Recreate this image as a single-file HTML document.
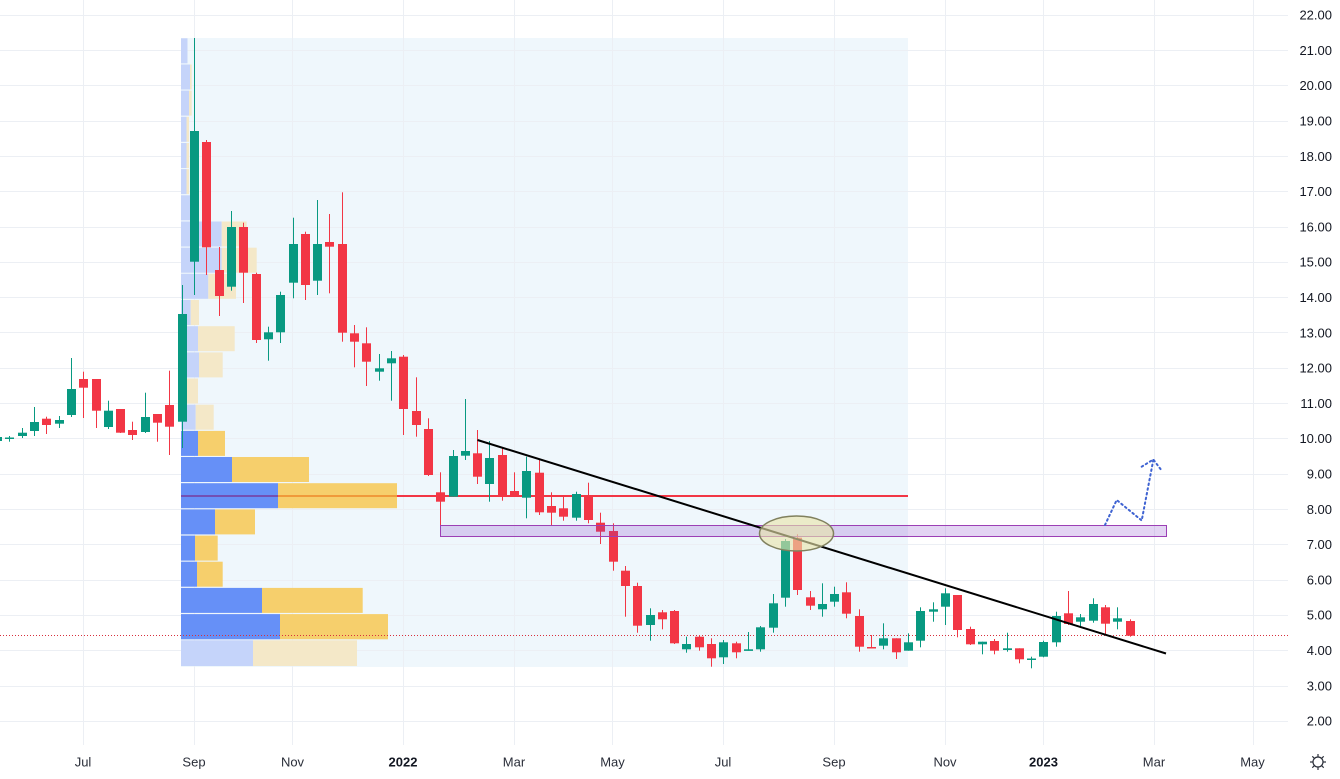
<!DOCTYPE html>
<html>
<head>
<meta charset="utf-8">
<style>
html,body{margin:0;padding:0;background:#ffffff;}
svg{display:block;}
text{font-family:"Liberation Sans",sans-serif;}
</style>
</head>
<body>
<svg width="1340" height="779" viewBox="0 0 1340 779" xmlns="http://www.w3.org/2000/svg">
<rect x="0" y="0" width="1340" height="779" fill="#ffffff"/>
<rect x="181" y="38" width="727" height="629" fill="#eff7fc"/>
<g stroke="#eceff4" stroke-width="1">
<line x1="0" y1="15.5" x2="1288" y2="15.5"/>
<line x1="0" y1="50.5" x2="1288" y2="50.5"/>
<line x1="0" y1="85.5" x2="1288" y2="85.5"/>
<line x1="0" y1="121.5" x2="1288" y2="121.5"/>
<line x1="0" y1="156.5" x2="1288" y2="156.5"/>
<line x1="0" y1="191.5" x2="1288" y2="191.5"/>
<line x1="0" y1="227.5" x2="1288" y2="227.5"/>
<line x1="0" y1="262.5" x2="1288" y2="262.5"/>
<line x1="0" y1="297.5" x2="1288" y2="297.5"/>
<line x1="0" y1="332.5" x2="1288" y2="332.5"/>
<line x1="0" y1="368.5" x2="1288" y2="368.5"/>
<line x1="0" y1="403.5" x2="1288" y2="403.5"/>
<line x1="0" y1="438.5" x2="1288" y2="438.5"/>
<line x1="0" y1="474.5" x2="1288" y2="474.5"/>
<line x1="0" y1="509.5" x2="1288" y2="509.5"/>
<line x1="0" y1="544.5" x2="1288" y2="544.5"/>
<line x1="0" y1="580.5" x2="1288" y2="580.5"/>
<line x1="0" y1="615.5" x2="1288" y2="615.5"/>
<line x1="0" y1="650.5" x2="1288" y2="650.5"/>
<line x1="0" y1="686.5" x2="1288" y2="686.5"/>
<line x1="0" y1="721.5" x2="1288" y2="721.5"/>
</g>
<g stroke="#eceff4" stroke-width="1">
<line x1="83.5" y1="0" x2="83.5" y2="745"/>
<line x1="194.5" y1="0" x2="194.5" y2="745"/>
<line x1="292.5" y1="0" x2="292.5" y2="745"/>
<line x1="403.5" y1="0" x2="403.5" y2="745"/>
<line x1="514.5" y1="0" x2="514.5" y2="745"/>
<line x1="612.5" y1="0" x2="612.5" y2="745"/>
<line x1="723.5" y1="0" x2="723.5" y2="745"/>
<line x1="834.5" y1="0" x2="834.5" y2="745"/>
<line x1="945.5" y1="0" x2="945.5" y2="745"/>
<line x1="1043.5" y1="0" x2="1043.5" y2="745"/>
<line x1="1154.5" y1="0" x2="1154.5" y2="745"/>
<line x1="1253.5" y1="0" x2="1253.5" y2="745"/>
</g>
<rect x="397" y="495" width="511" height="2" fill="#f23645"/>
<g>
<rect x="181" y="38.3" width="6.5" height="25" fill="#c5d4fa"/>
<rect x="181" y="64.5" width="9" height="25" fill="#c5d4fa"/><rect x="190" y="64.5" width="1.7" height="25" fill="#f4e8c8"/>
<rect x="181" y="90.6" width="8" height="25" fill="#c5d4fa"/><rect x="189" y="90.6" width="2.7" height="25" fill="#f4e8c8"/>
<rect x="181" y="116.8" width="5.5" height="25" fill="#c5d4fa"/><rect x="186.5" y="116.8" width="2.5" height="25" fill="#f4e8c8"/>
<rect x="181" y="143" width="5.5" height="25" fill="#c5d4fa"/><rect x="186.5" y="143" width="2.5" height="25" fill="#f4e8c8"/>
<rect x="181" y="169.1" width="5.5" height="25" fill="#c5d4fa"/><rect x="186.5" y="169.1" width="2.5" height="25" fill="#f4e8c8"/>
<rect x="181" y="195.3" width="9" height="25" fill="#c5d4fa"/><rect x="190" y="195.3" width="2" height="25" fill="#f4e8c8"/>
<rect x="181" y="221.5" width="40.7" height="25" fill="#c5d4fa"/><rect x="221.7" y="221.5" width="25" height="25" fill="#f4e8c8"/>
<rect x="181" y="247.7" width="40.7" height="25" fill="#c5d4fa"/><rect x="221.7" y="247.7" width="35" height="25" fill="#f4e8c8"/>
<rect x="181" y="273.8" width="27.3" height="25" fill="#c5d4fa"/><rect x="208.3" y="273.8" width="27.7" height="25" fill="#f4e8c8"/>
<rect x="181" y="300" width="9.7" height="25" fill="#c5d4fa"/><rect x="190.7" y="300" width="8.3" height="25" fill="#f4e8c8"/>
<rect x="181" y="326.2" width="17" height="25" fill="#c5d4fa"/><rect x="198" y="326.2" width="36.7" height="25" fill="#f4e8c8"/>
<rect x="181" y="352.4" width="18" height="25" fill="#c5d4fa"/><rect x="199" y="352.4" width="23.7" height="25" fill="#f4e8c8"/>
<rect x="181" y="378.5" width="5.7" height="25" fill="#c5d4fa"/><rect x="186.7" y="378.5" width="11.3" height="25" fill="#f4e8c8"/>
<rect x="181" y="404.7" width="14.7" height="25" fill="#c5d4fa"/><rect x="195.7" y="404.7" width="18" height="25" fill="#f4e8c8"/>
<rect x="181" y="640.3" width="72" height="25.7" fill="#c5d4fa"/><rect x="253" y="640.3" width="104" height="25.7" fill="#f4e8c8"/>
</g>
<g>
<rect x="181" y="430.9" width="17" height="25" fill="#6690f7"/><rect x="198" y="430.9" width="27" height="25" fill="#f6cf6c"/>
<rect x="181" y="457" width="51" height="25" fill="#6690f7"/><rect x="232" y="457" width="77" height="25" fill="#f6cf6c"/>
<rect x="181" y="483.2" width="97" height="25" fill="#6690f7"/><rect x="278" y="483.2" width="119" height="25" fill="#f6cf6c"/>
<rect x="181" y="509.4" width="34" height="25" fill="#6690f7"/><rect x="215" y="509.4" width="40" height="25" fill="#f6cf6c"/>
<rect x="181" y="535.6" width="14" height="25" fill="#6690f7"/><rect x="195" y="535.6" width="22.7" height="25" fill="#f6cf6c"/>
<rect x="181" y="561.7" width="16" height="25" fill="#6690f7"/><rect x="197" y="561.7" width="25.7" height="25" fill="#f6cf6c"/>
<rect x="181" y="587.9" width="81" height="25" fill="#6690f7"/><rect x="262" y="587.9" width="100.7" height="25" fill="#f6cf6c"/>
<rect x="181" y="614.1" width="99" height="25.2" fill="#6690f7"/><rect x="280" y="614.1" width="108" height="25.2" fill="#f6cf6c"/>
</g>
<rect x="181" y="495" width="97" height="2" fill="#7350b4"/>
<rect x="278" y="495" width="119" height="2" fill="#f09a3a"/>
<line x1="0" y1="635.5" x2="1288" y2="635.5" stroke="#d8303d" stroke-width="1" stroke-dasharray="1 2"/>
<g fill="#089981">
<rect x="-3" y="436" width="1" height="7"/><rect x="-7" y="437" width="9" height="4"/>
<rect x="9" y="436" width="1" height="5.7"/><rect x="5" y="437.5" width="9" height="1.5"/>
<rect x="22" y="428" width="1" height="10"/><rect x="18" y="432.7" width="9" height="3.3"/>
<rect x="34" y="407" width="1" height="29"/><rect x="30" y="422" width="9" height="9"/>
<rect x="59" y="416" width="1" height="12"/><rect x="55" y="420" width="9" height="3.7"/>
<rect x="71" y="358" width="1" height="59"/><rect x="67" y="389" width="9" height="26"/>
<rect x="108" y="400.7" width="1" height="28.3"/><rect x="104" y="410.7" width="9" height="16.3"/>
<rect x="145" y="392.7" width="1" height="40.3"/><rect x="141" y="417" width="9" height="15"/>
<rect x="182" y="285" width="1" height="163"/><rect x="178" y="314" width="9" height="107.7"/>
<rect x="194" y="38" width="1" height="257"/><rect x="190" y="131" width="9" height="130.7"/>
<rect x="231" y="211" width="1" height="79.7"/><rect x="227" y="227" width="9" height="59.7"/>
<rect x="268" y="326.7" width="1" height="34"/><rect x="264" y="332.3" width="9" height="7"/>
<rect x="280" y="291.7" width="1" height="51.3"/><rect x="276" y="295" width="9" height="37.3"/>
<rect x="293" y="217.7" width="1" height="80.6"/><rect x="289" y="244" width="9" height="38.7"/>
<rect x="317" y="200" width="1" height="95"/><rect x="313" y="244" width="9" height="36.7"/>
<rect x="379" y="354" width="1" height="26.7"/><rect x="375" y="368.3" width="9" height="3.4"/>
<rect x="391" y="351" width="1" height="49.7"/><rect x="387" y="358.3" width="9" height="5"/>
<rect x="453" y="450" width="1" height="46.7"/><rect x="449" y="456" width="9" height="40.7"/>
<rect x="465" y="399" width="1" height="61"/><rect x="461" y="451" width="9" height="4.7"/>
<rect x="489" y="441" width="1" height="60.7"/><rect x="485" y="458" width="9" height="26"/>
<rect x="526" y="456.7" width="1" height="61.6"/><rect x="522" y="471" width="9" height="26.7"/>
<rect x="576" y="491.7" width="1" height="29"/><rect x="572" y="494" width="9" height="23.7"/>
<rect x="650" y="608.3" width="1" height="32.4"/><rect x="646" y="615" width="9" height="10"/>
<rect x="686" y="636.7" width="1" height="16"/><rect x="682" y="644" width="9" height="5.3"/>
<rect x="723" y="640" width="1" height="24"/><rect x="719" y="642.3" width="9" height="15"/>
<rect x="748" y="632" width="1" height="18.7"/><rect x="744" y="649.3" width="9" height="1.6"/>
<rect x="760" y="626" width="1" height="25.7"/><rect x="756" y="627.3" width="9" height="22"/>
<rect x="773" y="594" width="1" height="38.7"/><rect x="769" y="603.3" width="9" height="24.4"/>
<rect x="785" y="539" width="1" height="67.7"/><rect x="781" y="541" width="9" height="56.7"/>
<rect x="822" y="583.3" width="1" height="33.4"/><rect x="818" y="604" width="9" height="5.3"/>
<rect x="834" y="586.7" width="1" height="20"/><rect x="830" y="594" width="9" height="7.7"/>
<rect x="883" y="623.3" width="1" height="26"/><rect x="879" y="638.3" width="9" height="7.4"/>
<rect x="908" y="633.3" width="1" height="17.4"/><rect x="904" y="642.3" width="9" height="8.4"/>
<rect x="920" y="607.3" width="1" height="40"/><rect x="916" y="611" width="9" height="29.7"/>
<rect x="933" y="602.3" width="1" height="19.4"/><rect x="929" y="609.3" width="9" height="2.4"/>
<rect x="945" y="588.3" width="1" height="36.7"/><rect x="941" y="593.3" width="9" height="13.4"/>
<rect x="982" y="641.7" width="1" height="12.6"/><rect x="978" y="641.7" width="9" height="2.6"/>
<rect x="1007" y="632.7" width="1" height="19"/><rect x="1003" y="648.3" width="9" height="1.7"/>
<rect x="1031" y="656.7" width="1" height="11.6"/><rect x="1027" y="658.5" width="9" height="1.5"/>
<rect x="1043" y="640.7" width="1" height="16.6"/><rect x="1039" y="642" width="9" height="14.7"/>
<rect x="1056" y="611.7" width="1" height="35"/><rect x="1052" y="616" width="9" height="26.3"/>
<rect x="1080" y="614" width="1" height="12"/><rect x="1076" y="617.3" width="9" height="4.4"/>
<rect x="1093" y="598.3" width="1" height="24.4"/><rect x="1089" y="604" width="9" height="16.7"/>
<rect x="1117" y="607.3" width="1" height="22"/><rect x="1113" y="618.3" width="9" height="3.4"/>
</g>
<g fill="#f23645">
<rect x="46" y="416.7" width="1" height="17.3"/><rect x="42" y="418.7" width="9" height="6.3"/>
<rect x="83" y="371.7" width="1" height="46.3"/><rect x="79" y="379" width="9" height="8.7"/>
<rect x="96" y="379" width="1" height="49"/><rect x="92" y="379" width="9" height="31.7"/>
<rect x="120" y="409" width="1" height="24"/><rect x="116" y="409" width="9" height="23.7"/>
<rect x="132" y="421.7" width="1" height="18.3"/><rect x="128" y="430" width="9" height="5"/>
<rect x="157" y="414" width="1" height="27.7"/><rect x="153" y="414" width="9" height="8.7"/>
<rect x="169" y="370.7" width="1" height="84.3"/><rect x="165" y="405" width="9" height="21.7"/>
<rect x="206" y="140" width="1" height="135"/><rect x="202" y="142" width="9" height="105.3"/>
<rect x="219" y="247" width="1" height="69"/><rect x="215" y="270" width="9" height="26"/>
<rect x="243" y="222.7" width="1" height="80.3"/><rect x="239" y="227" width="9" height="45.7"/>
<rect x="256" y="272.7" width="1" height="70.3"/><rect x="252" y="274" width="9" height="66"/>
<rect x="305" y="231.7" width="1" height="68.3"/><rect x="301" y="234" width="9" height="51"/>
<rect x="329" y="214" width="1" height="79.3"/><rect x="325" y="242" width="9" height="4.7"/>
<rect x="342" y="192.3" width="1" height="149.4"/><rect x="338" y="244" width="9" height="88.7"/>
<rect x="354" y="325" width="1" height="42.3"/><rect x="350" y="333.3" width="9" height="8.4"/>
<rect x="366" y="327.3" width="1" height="58.7"/><rect x="362" y="343.3" width="9" height="18.4"/>
<rect x="403" y="355" width="1" height="80"/><rect x="399" y="356.7" width="9" height="52.3"/>
<rect x="416" y="377.3" width="1" height="59.4"/><rect x="412" y="411" width="9" height="14"/>
<rect x="428" y="418.3" width="1" height="57.7"/><rect x="424" y="429" width="9" height="46"/>
<rect x="440" y="472.3" width="1" height="64.4"/><rect x="436" y="492.3" width="9" height="9.4"/>
<rect x="477" y="430" width="1" height="54"/><rect x="473" y="453.3" width="9" height="23.4"/>
<rect x="502" y="448.3" width="1" height="52.4"/><rect x="498" y="455" width="9" height="41.7"/>
<rect x="514" y="472.3" width="1" height="24.4"/><rect x="510" y="491" width="9" height="5.7"/>
<rect x="539" y="460" width="1" height="55"/><rect x="535" y="472.7" width="9" height="39.6"/>
<rect x="551" y="492.3" width="1" height="32.7"/><rect x="547" y="506" width="9" height="6.7"/>
<rect x="563" y="496" width="1" height="24.7"/><rect x="559" y="508.3" width="9" height="8.4"/>
<rect x="588" y="482.7" width="1" height="40.6"/><rect x="584" y="495.7" width="9" height="24.3"/>
<rect x="600" y="512.7" width="1" height="31.3"/><rect x="596" y="522.7" width="9" height="9"/>
<rect x="613" y="523.3" width="1" height="47.4"/><rect x="609" y="531" width="9" height="30.7"/>
<rect x="625" y="566" width="1" height="50.7"/><rect x="621" y="570.7" width="9" height="15.3"/>
<rect x="637" y="582.7" width="1" height="50"/><rect x="633" y="586" width="9" height="39.7"/>
<rect x="662" y="610" width="1" height="19.3"/><rect x="658" y="612.3" width="9" height="7"/>
<rect x="674" y="610" width="1" height="34"/><rect x="670" y="611" width="9" height="32.3"/>
<rect x="699" y="635" width="1" height="15.7"/><rect x="695" y="636.7" width="9" height="10.6"/>
<rect x="711" y="638.3" width="1" height="28.4"/><rect x="707" y="644" width="9" height="14.3"/>
<rect x="736" y="641.7" width="1" height="16.6"/><rect x="732" y="643.3" width="9" height="9"/>
<rect x="797" y="534.3" width="1" height="60.7"/><rect x="793" y="537.7" width="9" height="52.3"/>
<rect x="810" y="591" width="1" height="19"/><rect x="806" y="597.3" width="9" height="8.4"/>
<rect x="846" y="582.3" width="1" height="36"/><rect x="842" y="592.3" width="9" height="21.4"/>
<rect x="859" y="609.3" width="1" height="42.4"/><rect x="855" y="616" width="9" height="30.7"/>
<rect x="871" y="635" width="1" height="13.3"/><rect x="867" y="647" width="9" height="1.5"/>
<rect x="896" y="638.3" width="1" height="20.7"/><rect x="892" y="638.3" width="9" height="14"/>
<rect x="957" y="595" width="1" height="42.3"/><rect x="953" y="595" width="9" height="35"/>
<rect x="970" y="626.7" width="1" height="18.3"/><rect x="966" y="629" width="9" height="15.3"/>
<rect x="994" y="639" width="1" height="15.3"/><rect x="990" y="641" width="9" height="9.7"/>
<rect x="1019" y="648.3" width="1" height="15"/><rect x="1015" y="648.3" width="9" height="11"/>
<rect x="1068" y="591" width="1" height="34"/><rect x="1064" y="613.3" width="9" height="10.7"/>
<rect x="1105" y="605" width="1" height="29"/><rect x="1101" y="607.3" width="9" height="16.4"/>
<rect x="1130" y="619.3" width="1" height="17.4"/><rect x="1126" y="621" width="9" height="14.7"/>
</g>
<rect x="440.5" y="525.5" width="726" height="11" fill="rgba(126,60,200,0.22)" stroke="#9c3fb5" stroke-width="1"/>
<line x1="477.5" y1="440" x2="1166" y2="653.5" stroke="#000000" stroke-width="2"/>
<ellipse cx="796.5" cy="533.5" rx="37" ry="17.5" fill="rgba(232,228,170,0.62)" stroke="#80805e" stroke-width="1.5"/>
<g fill="none" stroke="#3f63d2" stroke-width="2" stroke-dasharray="1.6 3.2" stroke-linecap="round" stroke-linejoin="round">
<path d="M1105,525 L1116.7,500 L1141.7,520.5 L1153.3,460"/>
<path d="M1141.7,466.7 L1153.3,459.5 L1162,471"/>
</g>
<g font-size="13" fill="#131722" text-anchor="end">
<text x="1332" y="19.6">22.00</text>
<text x="1332" y="54.9">21.00</text>
<text x="1332" y="90.2">20.00</text>
<text x="1332" y="125.5">19.00</text>
<text x="1332" y="160.8">18.00</text>
<text x="1332" y="196.1">17.00</text>
<text x="1332" y="231.4">16.00</text>
<text x="1332" y="266.7">15.00</text>
<text x="1332" y="302">14.00</text>
<text x="1332" y="337.3">13.00</text>
<text x="1332" y="372.6">12.00</text>
<text x="1332" y="407.9">11.00</text>
<text x="1332" y="443.2">10.00</text>
<text x="1332" y="478.5">9.00</text>
<text x="1332" y="513.8">8.00</text>
<text x="1332" y="549.1">7.00</text>
<text x="1332" y="584.4">6.00</text>
<text x="1332" y="619.7">5.00</text>
<text x="1332" y="655">4.00</text>
<text x="1332" y="690.3">3.00</text>
<text x="1332" y="725.6">2.00</text>
</g>
<g font-size="13" fill="#2a2e39" text-anchor="middle">
<text x="83" y="766.5">Jul</text>
<text x="194" y="766.5">Sep</text>
<text x="292.5" y="766.5">Nov</text>
<text x="403" y="766.5" font-weight="bold" fill="#131722">2022</text>
<text x="514" y="766.5">Mar</text>
<text x="612.5" y="766.5">May</text>
<text x="723" y="766.5">Jul</text>
<text x="834" y="766.5">Sep</text>
<text x="945" y="766.5">Nov</text>
<text x="1043.5" y="766.5" font-weight="bold" fill="#131722">2023</text>
<text x="1154" y="766.5">Mar</text>
<text x="1252.5" y="766.5">May</text>
</g>
<g transform="translate(1318,762)" fill="none" stroke="#2a2e39" stroke-width="1.2">
<circle cx="0" cy="0" r="5"/>
<line x1="0" y1="-8" x2="0" y2="-5"/>
<line x1="0" y1="5" x2="0" y2="8"/>
<line x1="-8" y1="0" x2="-5" y2="0"/>
<line x1="5" y1="0" x2="8" y2="0"/>
<line x1="-5.7" y1="-5.7" x2="-3.5" y2="-3.5"/>
<line x1="3.5" y1="3.5" x2="5.7" y2="5.7"/>
<line x1="5.7" y1="-5.7" x2="3.5" y2="-3.5"/>
<line x1="-3.5" y1="3.5" x2="-5.7" y2="5.7"/>
</g>
</svg>
</body>
</html>
